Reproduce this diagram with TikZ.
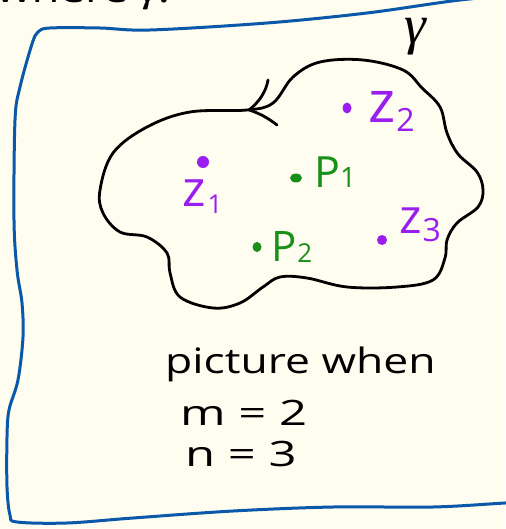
\documentclass[tikz,border=0pt]{standalone}
\usepackage{fontspec}
\setmainfont{Open Sans}
\newfontfamily\gfont{Liberation Serif}
\definecolor{bg}{RGB}{254,253,239}
\definecolor{frameblue}{RGB}{10,88,170}
\definecolor{zpurple}{RGB}{155,30,240}
\definecolor{pgreen}{RGB}{25,145,25}
\newcommand\lsub[3]{\raisebox{-#1pt}{\fontsize{#2}{#2}\selectfont #3}}
\begin{document}
\begin{tikzpicture}[x=1pt,y=-1pt,
  ink/.style={line width=2.8pt,line cap=round,line join=round},
  hand/.style={anchor=base west,inner sep=0pt,font=\fontsize{35}{35}\selectfont},
  zlab/.style={anchor=base west,inner sep=0pt,text=zpurple},
  plab/.style={anchor=base west,inner sep=0pt,text=pgreen}]
\useasboundingbox (0,0) rectangle (505,529);
\fill[bg] (0,0) rectangle (505,529);

% cut-off text at the top
\node[hand] (toptext) at (-4,3) {\scalebox{1.3}[1]{where {\gfont\itshape γ}.}};

% blue frame
\draw[frameblue,line width=3pt,line cap=round,line join=round]
  plot[smooth,tension=0.55] coordinates {(530,-6) (460,0) (367,13) (267,23) (150,30) (100,28) (50,28) (38,32) (32,44) (20,87) (15,120) (14,220) (17,270) (22,303) (23,337) (18,380) (9,410) (7,437) (7,487) (10,515) (17,522) (67,523) (133,518) (233,511) (333,507) (433,507) (505,503) (530,502)};

% gamma
\node[anchor=base west,inner sep=0pt,font=\gfont\itshape\fontsize{55}{55}\selectfont] (gam) at (404,44) {γ};

% closed contour
\draw[ink] plot[smooth cycle,tension=0.6] coordinates {
  (100,190) (113,153) (147,127) (190,112) (247,110) (273,103) (293,77) (320,62)
  (363,60) (403,70) (422,88) (440,107) (447,133) (458,154) (477,172) (483,190)
  (478,207) (457,223) (447,240) (445,258) (433,280) (397,287) (347,287) (307,278)
  (280,277) (263,287) (240,303) (213,308) (180,297) (170,273) (167,253) (147,237)
  (120,232) (103,213)};

% arrow head on the contour
\coordinate (tip) at (249,110);
\coordinate (barbA) at (268,80);
\coordinate (barbB) at (277,125);
\draw[ink] (tip) .. controls (259,102) and (266,92) .. (barbA);
\draw[ink] (tip) .. controls (259,113) and (268,118) .. (barbB);

% points
\fill[zpurple] (203,162) circle[radius=6pt];
\fill[zpurple] (347,108) ellipse[x radius=4.5pt,y radius=5.5pt];
\fill[zpurple] (382,240) circle[radius=5pt];
\fill[pgreen] (296,178) ellipse[x radius=6pt,y radius=4.5pt];
\fill[pgreen] (257,247) ellipse[x radius=4.5pt,y radius=5pt];

% labels
\node[zlab,font=\fontsize{50}{50}\selectfont] (z1) at (182,207) {z\hspace{2pt}\lsub{6}{26}{1}};
\node[zlab,font=\fontsize{58}{58}\selectfont] (z2) at (368,123) {z\hspace{1pt}\lsub{9}{32}{2}};
\node[zlab,font=\fontsize{48}{48}\selectfont] (z3) at (399,233) {z\hspace{1pt}\lsub{9}{32}{3}};
\node[plab,font=\fontsize{43}{43}\selectfont] (p1) at (314,188) {P\lsub{0}{28}{1}};
\node[plab,font=\fontsize{42}{42}\selectfont] (p2) at (271,261) {P\hspace{1pt}\lsub{1}{26}{2}};

% caption
\node[hand] (cap1) at (165,373) {\scalebox{1.27}[1]{picture when}};
\node[hand] (cap2) at (180,425) {\scalebox{1.4}[1]{m = 2}};
\node[hand] (cap3) at (185,466) {\scalebox{1.4}[1]{n = 3}};
\end{tikzpicture}
\end{document}
